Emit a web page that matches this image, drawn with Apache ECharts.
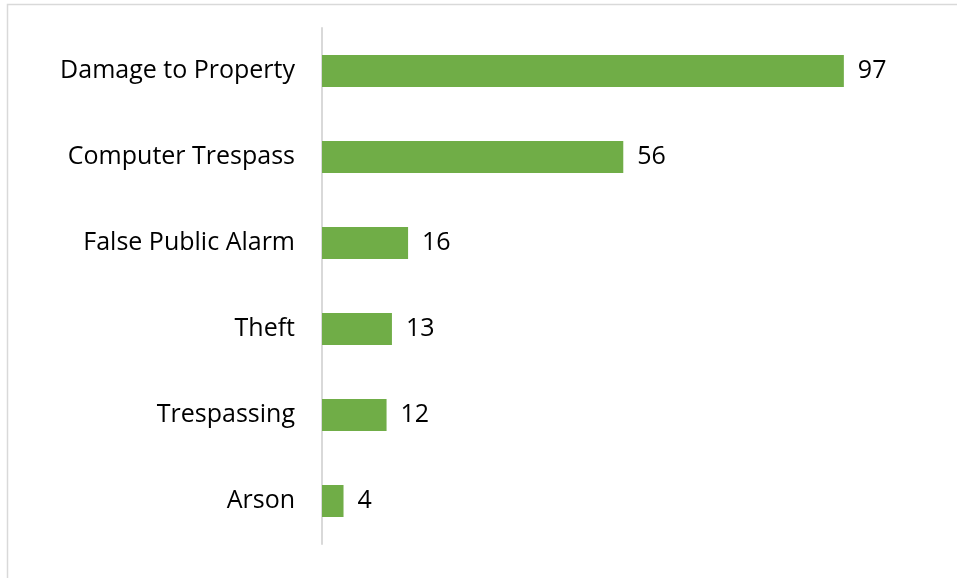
<!DOCTYPE html>
<html>
<head>
<meta charset="utf-8">
<script src="https://cdn.jsdelivr.net/npm/echarts@6/dist/echarts.min.js"></script>
<style>
  html, body { margin: 0; padding: 0; background: #fff; }
  #chart { width: 957px; height: 578px; }
</style>
</head>
<body>
<div id="chart"></div>
<script>
// Incident categories, listed bottom to top as the y axis draws them
const categories = ['Arson', 'Trespassing', 'Theft', 'False Public Alarm', 'Computer Trespass', 'Damage to Property'];
const counts = [4, 12, 13, 16, 56, 97];

const chart = echarts.init(document.getElementById('chart'));
chart.setOption({
  animation: false,
  backgroundColor: '#ffffff',
  graphic: [{
    type: 'rect',
    shape: { x: 7.5, y: 4.5, width: 1200, height: 1200 },
    style: { fill: 'none', stroke: '#d9d9d9', lineWidth: 1.5 },
    silent: true
  }],
  grid: { left: 322, top: 28, width: 538, height: 516, containLabel: false },
  xAxis: {
    type: 'value',
    min: 0,
    max: 100,
    show: false
  },
  yAxis: {
    type: 'category',
    data: categories,
    axisLine: { show: true, lineStyle: { color: '#d9d9d9', width: 2 } },
    axisTick: { show: false },
    axisLabel: {
      color: '#000',
      fontFamily: 'Open Sans',
      fontSize: 25,
      margin: 27
    }
  },
  series: [{
    type: 'bar',
    data: counts,
    barWidth: 32,
    itemStyle: { color: '#70ad47' },
    label: {
      show: true,
      position: 'right',
      distance: 14,
      color: '#000',
      fontFamily: 'Open Sans',
      fontSize: 25
    }
  }]
});
</script>
</body>
</html>
